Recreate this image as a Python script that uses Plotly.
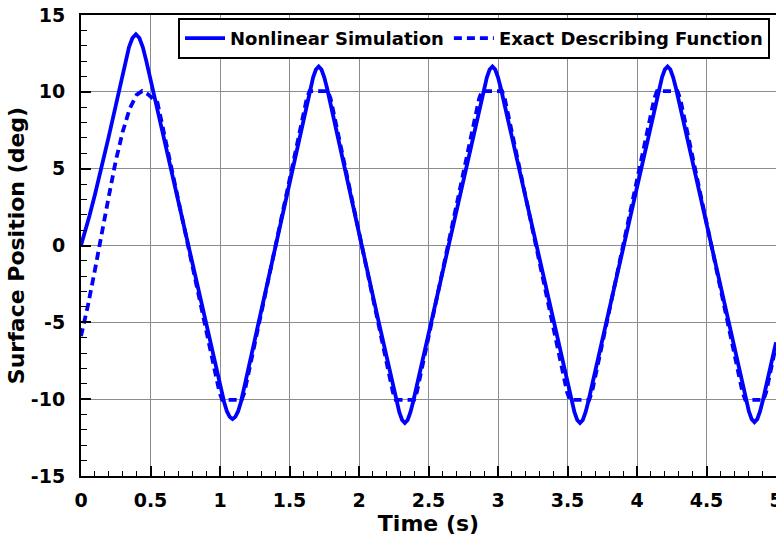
import plotly.graph_objects as go

# ---- data ----
time_nl = [0.0, 0.03, 0.06, 0.10, 0.15, 0.20, 0.25, 0.30, 0.32, 0.345, 0.37, 0.395, 0.42, 0.445, 0.47, 0.49,
           0.52, 0.65, 0.772, 0.90, 1.00, 1.03, 1.05, 1.07, 1.09, 1.11, 1.13, 1.15, 1.18,
           1.28, 1.40, 1.52, 1.63, 1.65, 1.67, 1.69, 1.71, 1.73, 1.75, 1.77, 1.79,
           1.90, 2.02, 2.14, 2.25, 2.27, 2.29, 2.31, 2.33, 2.35, 2.37, 2.39, 2.41,
           2.52, 2.645, 2.77, 2.88, 2.90, 2.92, 2.94, 2.96, 2.98, 3.00, 3.02, 3.04,
           3.15, 3.275, 3.40, 3.51, 3.53, 3.55, 3.57, 3.59, 3.61, 3.63, 3.65, 3.67,
           3.78, 3.905, 4.03, 4.14, 4.16, 4.18, 4.20, 4.22, 4.24, 4.26, 4.28, 4.30,
           4.41, 4.535, 4.66, 4.765, 4.785, 4.805, 4.825, 4.845, 4.865, 4.885, 4.905, 4.925, 5.0]
pos_nl = [0.0, 0.9, 1.9, 3.3, 5.1, 7.1, 9.1, 11.2, 12.0, 12.9, 13.5, 13.75, 13.5, 12.9, 12.0, 11.2,
          10.0, 4.9, 0.0, -5.1, -9.0, -10.2, -10.8, -11.15, -11.3, -11.15, -10.8, -10.2, -9.0,
          -4.9, 0.0, 4.9, 9.45, 10.25, 10.95, 11.45, 11.65, 11.45, 10.95, 10.25, 9.45,
          4.95, 0.0, -4.9, -9.35, -10.15, -10.85, -11.35, -11.55, -11.35, -10.85, -10.15, -9.35,
          -4.9, 0.2, 5.1, 9.45, 10.25, 10.95, 11.45, 11.65, 11.45, 10.95, 10.25, 9.45,
          4.95, -0.1, -5.1, -9.35, -10.15, -10.85, -11.35, -11.55, -11.35, -10.85, -10.15, -9.35,
          -4.9, 0.2, 5.1, 9.45, 10.25, 10.95, 11.45, 11.65, 11.45, 10.95, 10.25, 9.45,
          4.95, -0.1, -5.1, -9.3, -10.1, -10.8, -11.3, -11.5, -11.3, -10.8, -10.1, -9.3, -6.3]

time_df = [0.00, 0.05, 0.10, 0.15, 0.20, 0.25, 0.30, 0.35, 0.40, 0.44, 0.48, 0.55,
           0.772, 0.996, 1.016, 1.156, 1.176,
           1.40, 1.624, 1.644, 1.776, 1.796,
           2.02, 2.244, 2.264, 2.396, 2.416,
           2.64, 2.864, 2.884, 3.029, 3.049,
           3.273, 3.497, 3.517, 3.656, 3.676,
           3.90, 4.124, 4.144, 4.291, 4.311,
           4.535, 4.759, 4.779, 4.909, 4.929, 5.00]
pos_df = [-5.9, -3.9, -1.6, 0.9, 3.2, 5.5, 7.4, 8.9, 9.8, 10.05, 9.85, 9.3,
          0.0, -9.55, -10.05, -10.05, -9.55,
          0.0, 9.55, 10.05, 10.05, 9.55,
          0.0, -9.55, -10.05, -10.05, -9.55,
          0.0, 9.55, 10.05, 10.05, 9.55,
          0.0, -9.55, -10.05, -10.05, -9.55,
          0.0, 9.55, 10.05, 10.05, 9.55,
          0.0, -9.55, -10.05, -10.05, -9.55, -6.5]

y_tickvals = [-15, -10, -5, 0, 5, 10, 15]
y_ticktext = ["-15", "-10", "-5", "0", "5", "10", "15"]
x_tickvals = [0, 0.5, 1, 1.5, 2, 2.5, 3, 3.5, 4, 4.5, 5]
x_ticktext = ["0", "0.5", "1", "1.5", "2", "2.5", "3", "3.5", "4", "4.5", "5"]

FONT = "DejaVu Sans"
BLUE = "#0000FF"

fig = go.Figure()
fig.add_trace(go.Scatter(x=time_nl, y=pos_nl, mode="lines", name="Nonlinear Simulation",
                         line=dict(color=BLUE, width=3.8)))
fig.add_trace(go.Scatter(x=time_df, y=pos_df, mode="lines", name="Exact Describing Function",
                         line=dict(color=BLUE, width=3.8, dash="8px,5px")))

axis_common = dict(
    showgrid=True, gridcolor="#8c8c8c", gridwidth=1,
    showline=True, linecolor="black", linewidth=2, mirror=True,
    ticks="inside", ticklen=10, tickwidth=2, tickcolor="black",
    tickfont=dict(family=FONT, size=19, color="black", weight="bold"),
    zeroline=False, automargin=False, ticklabeloverflow="allow",
)

fig.update_xaxes(range=[0, 5], tickvals=x_tickvals, ticktext=x_ticktext,
                 minor=dict(dtick=0.1, ticks="inside", ticklen=5, tickwidth=1, tickcolor="black", showgrid=False),
                 title=dict(text="Time (s)", font=dict(family=FONT, size=22, color="black", weight="bold"), standoff=6),
                 ticklabelstandoff=6, **axis_common)
fig.update_yaxes(range=[-15, 15], tickvals=y_tickvals, ticktext=y_ticktext,
                 minor=dict(dtick=1, ticks="inside", ticklen=6, tickwidth=1, tickcolor="black", showgrid=False),
                 title=dict(text="Surface Position (deg)", font=dict(family=FONT, size=22, color="black", weight="bold"), standoff=0),
                 ticklabelstandoff=10, **axis_common)

fig.update_layout(
    width=776, height=545,
    margin=dict(l=81, r=0, t=15, b=69, autoexpand=False),
    paper_bgcolor="white", plot_bgcolor="white",
    showlegend=True,
    legend=dict(orientation="h", x=0.9914, xanchor="right", y=0.9935, yanchor="top",
                bgcolor="white", bordercolor="black", borderwidth=2,
                font=dict(family=FONT, size=18, color="black", weight="bold"),
                itemwidth=40, tracegroupgap=0),
)

fig.write_html("out.html", config={"displayModeBar": False},
               post_script="document.body.style.margin='0';document.body.style.overflow='hidden';")
